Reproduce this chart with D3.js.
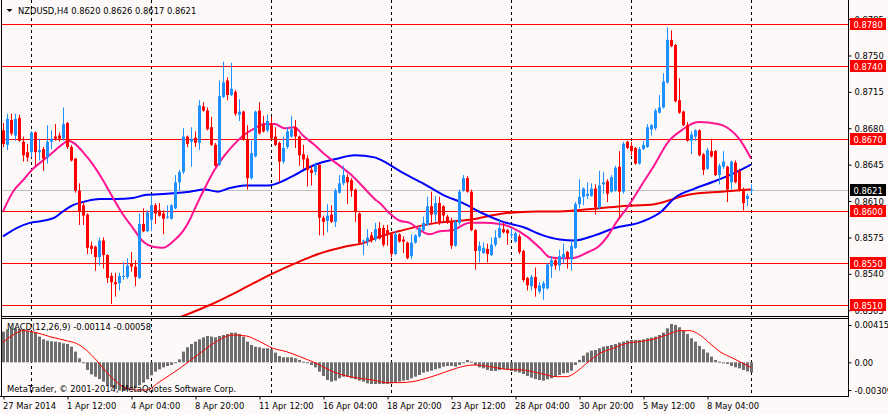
<!DOCTYPE html>
<html>
<head>
<meta charset="utf-8">
<script src="https://d3js.org/d3.v7.min.js"></script>
<style>
  body { margin: 0; background: #fdf9f8; }
  svg text { font-family: 'DejaVu Sans Condensed', 'DejaVu Sans', sans-serif; font-size: 9.3px; fill: #000; }
</style>
</head>
<body>
<div id="chart"></div>
<script>
// ---------------------------------------------------------------
// data (prices in pips: 8678 = 0.8678)

let barOpen = [8678,8664,8688,8673,8690,8667,8657,8657,8676,8657,8660,8652,8667,8672,8673,8670,8685,8662,8651,8620,
    8606,8597,8567,8566,8556,8572,8558,8538,8532,8531,8537,8537,8550,8547,8536,8588,8581,8592,8606,8601,
    8598,8594,8593,8603,8628,8638,8672,8667,8671,8666,8701,8697,8681,8664,8645,8710,8726,8712,8715,8693,
    8696,8669,8632,8653,8697,8683,8678,8684,8672,8666,8648,8662,8672,8681,8672,8655,8651,8640,8638,8645,
    8594,8591,8597,8590,8618,8627,8633,8630,8621,8598,8571,8571,8577,8573,8584,8584,8582,8578,8559,8578,
    8573,8570,8557,8570,8576,8582,8587,8605,8597,8608,8605,8595,8591,8567,8589,8620,8632,8619,8582,8562,
    8560,8564,8558,8568,8575,8583,8582,8577,8571,8576,8562,8536,8528,8537,8523,8526,8526,8547,8553,8548,
    8555,8561,8554,8565,8607,8614,8615,8615,8622,8604,8626,8629,8619,8620,8643,8619,8667,8663,8661,8646,
    8660,8662,8679,8680,8695,8700,8724,8765,8760,8707,8696,8683,8668,8672,8678,8655,8641,8658,8658,8635,
    8643,8643,8628,8647,8639,8621,8612,8620];
let barHigh = [8685,8694,8694,8694,8693,8672,8665,8677,8677,8670,8662,8683,8678,8684,8676,8700,8686,8664,8651,8627,
    8609,8598,8571,8567,8575,8575,8559,8541,8541,8541,8551,8555,8561,8553,8598,8603,8601,8615,8608,8608,
    8601,8606,8607,8635,8640,8680,8673,8681,8677,8707,8705,8700,8691,8666,8726,8744,8729,8743,8717,8708,
    8697,8683,8668,8697,8705,8692,8693,8691,8681,8667,8672,8681,8692,8688,8673,8664,8654,8644,8647,8645,
    8596,8607,8606,8622,8635,8644,8636,8632,8622,8599,8573,8583,8580,8589,8590,8587,8587,8579,8581,8579,
    8576,8571,8578,8578,8586,8595,8614,8619,8615,8614,8606,8597,8594,8592,8621,8635,8634,8621,8583,8571,
    8570,8569,8575,8582,8592,8589,8583,8584,8581,8578,8563,8537,8539,8546,8532,8533,8550,8557,8555,8563,
    8569,8562,8572,8609,8631,8623,8628,8627,8626,8639,8638,8631,8635,8644,8658,8667,8668,8667,8662,8662,
    8668,8684,8684,8699,8712,8733,8777,8774,8761,8728,8697,8686,8677,8679,8679,8656,8661,8670,8659,8646,
    8658,8644,8649,8649,8641,8623,8617,8626];
let barLow = [8662,8659,8673,8668,8667,8648,8648,8652,8644,8649,8639,8646,8660,8668,8667,8668,8660,8648,8618,8587,
    8587,8559,8559,8543,8548,8545,8531,8511,8518,8524,8534,8535,8542,8528,8535,8580,8580,8581,8588,8595,
    8578,8593,8592,8602,8620,8636,8662,8643,8662,8659,8696,8678,8663,8643,8644,8709,8707,8711,8692,8687,
    8668,8621,8631,8652,8674,8676,8676,8669,8663,8628,8646,8660,8671,8661,8644,8641,8624,8625,8635,8577,
    8577,8580,8589,8585,8617,8625,8607,8614,8590,8568,8558,8567,8570,8571,8573,8566,8567,8556,8558,8570,
    8560,8554,8554,8569,8575,8581,8586,8589,8590,8587,8590,8588,8564,8566,8587,8619,8618,8581,8544,8551,
    8559,8551,8557,8566,8574,8579,8568,8574,8570,8559,8532,8524,8524,8518,8521,8515,8525,8536,8544,8543,
    8550,8545,8543,8564,8603,8606,8612,8614,8597,8602,8617,8609,8618,8619,8593,8617,8660,8654,8645,8645,
    8659,8661,8673,8678,8694,8699,8723,8758,8705,8694,8682,8667,8655,8668,8653,8635,8640,8652,8634,8626,
    8641,8609,8621,8627,8619,8601,8605,8617];
let barClose = [8665,8689,8675,8689,8668,8654,8652,8676,8657,8659,8651,8667,8670,8670,8670,8684,8662,8649,8620,8600,
    8596,8565,8564,8556,8572,8558,8536,8532,8530,8538,8538,8548,8547,8537,8588,8581,8599,8606,8598,8596,
    8593,8595,8606,8628,8638,8672,8665,8670,8666,8702,8697,8679,8664,8644,8711,8724,8712,8718,8694,8696,
    8669,8632,8656,8696,8675,8677,8687,8670,8664,8648,8661,8677,8679,8672,8654,8650,8640,8637,8644,8594,
    8590,8596,8590,8620,8627,8635,8628,8620,8600,8570,8572,8575,8573,8583,8574,8568,8578,8559,8578,8571,
    8571,8555,8570,8577,8584,8589,8605,8597,8608,8589,8596,8589,8567,8590,8619,8632,8619,8582,8562,8567,
    8565,8559,8568,8575,8584,8580,8579,8578,8579,8561,8534,8529,8537,8526,8529,8531,8549,8553,8548,8557,
    8559,8555,8567,8607,8614,8622,8617,8622,8604,8625,8628,8617,8633,8642,8619,8665,8661,8658,8646,8660,
    8664,8681,8683,8697,8700,8725,8765,8759,8706,8695,8683,8668,8674,8678,8654,8640,8659,8653,8635,8644,
    8648,8621,8648,8628,8621,8608,8615,8621];

// moving averages, [bar, pips]
let maPink = [[0,8600],[2.5,8619],[5,8630],[7.5,8641],[10,8649],[12.5,8657],[15,8665],[16.3,8668],[18,8665],
    [20,8657],[22.5,8645],[25,8630],[27.5,8613],[30,8597],[32.5,8584],[35,8571],[37.5,8566],[40,8565],[42.5,8571],
    [45,8581],[46.7,8592],[48,8603],[50.4,8622],[52.9,8640],[55.4,8654],[57.9,8665],[60.4,8674],[62.9,8680],
    [65.4,8684],[67.9,8684],[70.4,8680],[72.9,8681],[75,8673],[77.9,8664],[80.4,8655],[83.8,8645],[87.1,8635],
    [90.4,8622],[92.9,8612],[94.2,8608],[96.7,8598],[99.2,8591],[101.7,8589],[104.2,8582],[106.7,8578],
    [109.2,8581],[112.5,8582],[115,8587],[116.7,8589],[120,8589],[124.2,8588],[127.5,8584],[130.9,8576],
    [134.2,8565],[136.7,8556],[139.2,8555],[142.1,8555],[146.3,8561],[148.8,8566],[151.3,8577],[153.4,8590],
    [156.3,8605],[159.6,8625],[162.9,8645],[166.3,8667],[169.6,8678],[173.8,8686],[178.8,8684],[181.3,8680],
    [184.2,8669],[187,8651]];
let maBlue = [[0,8576],[3.4,8584],[6.7,8589],[10,8591],[12.9,8594],[15,8600],[17.5,8606],[20.9,8610],[24.2,8612],
    [28.4,8612],[32.5,8613],[35.9,8616],[40.9,8617],[46.7,8619],[50.4,8621],[53.8,8619],[56.3,8622],[60.4,8625],
    [66.3,8625],[70.4,8630],[72.9,8635],[76.3,8642],[79.6,8647],[83.8,8651],[87.9,8654],[92.9,8652],[94.2,8650],
    [100,8637],[105,8627],[110,8616],[115,8608],[120,8598],[125,8590],[130,8585],[135,8577],[139.2,8573],
    [142.9,8572],[147.9,8577],[152.9,8584],[159.6,8590],[164.6,8600],[167.9,8613],[172.9,8622],[177.9,8629],
    [182.9,8637],[187,8645]];
let maRed = [[44,8498],[45.4,8500],[51.7,8510],[59.2,8524],[66.7,8539],[74.2,8552],[78.8,8559],
    [85.4,8566],[90.4,8570],[92.9,8574],[100,8582],[108.4,8589],[116.7,8592],[125,8598],[133.4,8600],
    [139.2,8600],[146.3,8602],[154.6,8605],[162.9,8607],[171.3,8616],[179.6,8619],[187,8621]];

// MACD(12,26,9): histogram per bar and signal line, in units of 0.00001
let macdHist = [341,367,378,378,371,360,352,341,330,286,256,241,234,230,223,211,204,174,119,45,
    -11,-85,-134,-160,-186,-215,-252,-278,-300,-315,-319,-308,-293,-278,-256,-226,-189,-145,-104,-78,
    -56,-41,-30,-11,33,119,167,204,230,256,278,293,286,278,293,304,315,330,330,315,
    286,230,193,174,167,156,156,145,108,70,56,56,56,45,26,7,-11,-30,-56,-104,
    -152,-197,-215,-204,-178,-160,-160,-178,-189,-204,-215,-234,-241,-241,-241,-241,-241,-234,-226,-215,
    -204,-197,-178,-160,-141,-115,-104,-93,-78,-67,-48,-41,-41,-48,-30,-11,26,7,-30,-56,
    -67,-85,-96,-96,-85,-78,-85,-96,-104,-115,-130,-152,-171,-186,-197,-204,-189,-178,-160,-141,
    -122,-115,-93,-30,26,74,108,130,137,156,174,182,193,204,219,230,241,249,249,249,
    256,267,275,286,304,330,378,427,416,390,352,315,267,230,182,145,108,63,26,7,
    -11,-19,-41,-56,-67,-85,-100,-114];
let macdSignal = [[0,223],[2.5,304],[5,352],[8.3,330],[11.7,286],[15.8,241],[18.3,211],[20.8,137],[23.3,26],
    [25.8,-104],[28.3,-215],[30.8,-289],[33.3,-308],[35.8,-308],[39.2,-215],[44.2,-67],[49.2,100],[53.3,230],
    [57.5,304],[60.8,293],[64.2,230],[67.5,156],[70.8,119],[74.2,63],[78.3,-11],[82.5,-104],[85.8,-152],
    [89.2,-178],[92.5,-197],[95.8,-226],[99.2,-226],[102.5,-215],[105.8,-178],[109.2,-130],[113.3,-67],
    [117.5,-30],[121.7,-48],[125.8,-78],[130,-85],[134.2,-122],[138.4,-160],[140.9,-160],[143.4,-104],
    [145.9,-11],[149.2,100],[152.5,156],[155.9,211],[159.2,230],[162.5,256],[165.9,304],[169.2,352],
    [171.7,352],[174.2,304],[176.7,211],[179.2,119],[182.5,45],[187,-58]];

// axis labels
let priceTicks = [0.8785, 0.8750, 0.8715, 0.8680, 0.8645, 0.8610, 0.8575, 0.8540, 0.8505];
let levels = [0.8780, 0.8740, 0.8670, 0.8600, 0.8550, 0.8510];
let lastPrice = 0.8621;
let macdTicks = [0.00415, 0, -0.00309];
let macdTickLabels = ['0.00415', '0.00', '-0.00309'];
let timeBars = [0, 16, 32, 48, 64, 80, 96, 112, 128, 144, 160, 176];
let timeLabels = ['27 Mar 2014', '1 Apr 12:00', '4 Apr 04:00', '8 Apr 20:00', '11 Apr 12:00', '16 Apr 04:00',
    '18 Apr 20:00', '23 Apr 12:00', '28 Apr 04:00', '30 Apr 20:00', '5 May 12:00', '8 May 04:00'];
let weekBars = [7, 37, 67, 97, 127, 157, 187];

// ---------------------------------------------------------------
// layout
let width = 888, height = 414;
let plotRight = 848;
let mainBottom = 316, macdTop = 318, macdBottom = 396;

let bullColor = '#1e90ff', bearColor = '#ff0000';

let x = d3.scaleLinear().domain([0, 187]).range([3, 751]);
let y = d3.scaleLinear().domain([0.8510, 0.8780]).range([305, 24.3]);
let yM = d3.scaleLinear().domain([0, 0.00415]).range([362.3, 325]);

let pip = v => v / 10000;

let svg = d3.select('#chart').append('svg')
    .attr('width', width)
    .attr('height', height);

svg.append('rect')
    .attr('width', width).attr('height', height)
    .attr('fill', '#fdf9f8');

let defs = svg.append('defs');
defs.append('clipPath').attr('id', 'clipMain')
    .append('rect').attr('x', 2).attr('y', 0).attr('width', plotRight - 2).attr('height', mainBottom);
defs.append('clipPath').attr('id', 'clipMacd')
    .append('rect').attr('x', 2).attr('y', macdTop).attr('width', plotRight - 2).attr('height', macdBottom - macdTop);

// ---------------------------------------------------------------
// main panel
let main = svg.append('g').attr('clip-path', 'url(#clipMain)');

// week separators
main.selectAll('.week')
    .data(weekBars)
    .enter().append('line')
    .attr('class', 'week')
    .attr('x1', d => Math.round(x(d)) + 0.5).attr('x2', d => Math.round(x(d)) + 0.5)
    .attr('y1', 0).attr('y2', mainBottom)
    .attr('stroke', '#000').attr('stroke-dasharray', '3,3');

// horizontal levels
main.append('line')
    .attr('x1', 2).attr('x2', plotRight)
    .attr('y1', Math.round(y(lastPrice)) + 0.5).attr('y2', Math.round(y(lastPrice)) + 0.5)
    .attr('stroke', '#c0c0c0');

main.selectAll('.level')
    .data(levels)
    .enter().append('line')
    .attr('class', 'level')
    .attr('x1', 2).attr('x2', plotRight)
    .attr('y1', d => Math.round(y(d)) + 0.5).attr('y2', d => Math.round(y(d)) + 0.5)
    .attr('stroke', '#ff0000');

// moving averages
let maLine = d3.line()
    .curve(d3.curveMonotoneX)
    .x(d => x(d[0]))
    .y(d => y(pip(d[1])));

[[maRed, '#ee0000'], [maBlue, '#0000ff'], [maPink, '#ff1493']].forEach(function(m){
    main.append('path')
        .attr('d', maLine(m[0]))
        .attr('fill', 'none')
        .attr('stroke', m[1])
        .attr('stroke-width', 2);
});

// candles
let candles = main.selectAll('.candle')
    .data(d3.range(barOpen.length))
    .enter().append('g')
    .attr('class', 'candle');

candles.append('line')
    .attr('x1', i => Math.round(x(i)) + 0.5).attr('x2', i => Math.round(x(i)) + 0.5)
    .attr('y1', i => y(pip(barHigh[i]))).attr('y2', i => y(pip(barLow[i])))
    .attr('stroke', i => barClose[i] >= barOpen[i] ? bullColor : bearColor);

candles.append('rect')
    .attr('x', i => Math.round(x(i)) - 1)
    .attr('width', 3)
    .attr('y', i => y(pip(Math.max(barOpen[i], barClose[i]))))
    .attr('height', i => Math.max(1, Math.abs(y(pip(barOpen[i])) - y(pip(barClose[i])))))
    .attr('fill', i => barClose[i] >= barOpen[i] ? bullColor : bearColor);

// ---------------------------------------------------------------
// MACD panel
let macd = svg.append('g').attr('clip-path', 'url(#clipMacd)');

macd.selectAll('.week')
    .data(weekBars)
    .enter().append('line')
    .attr('class', 'week')
    .attr('x1', d => Math.round(x(d)) + 0.5).attr('x2', d => Math.round(x(d)) + 0.5)
    .attr('y1', macdTop).attr('y2', macdBottom)
    .attr('stroke', '#000').attr('stroke-dasharray', '3,3');

macd.selectAll('.hist')
    .data(macdHist)
    .enter().append('rect')
    .attr('class', 'hist')
    .attr('x', (d, i) => Math.round(x(i)) - 1)
    .attr('width', 3)
    .attr('y', d => Math.min(yM(d / 1e5), yM(0)))
    .attr('height', d => Math.max(1, Math.abs(yM(d / 1e5) - yM(0))))
    .attr('fill', '#6e6e6e');

let sigLine = d3.line()
    .curve(d3.curveMonotoneX)
    .x(d => x(d[0]))
    .y(d => yM(d[1] / 1e5));

macd.append('path')
    .attr('d', sigLine(macdSignal))
    .attr('fill', 'none')
    .attr('stroke', '#ff0000')
    .attr('stroke-width', 1);

// ---------------------------------------------------------------
// frames
let frame = svg.append('g').attr('stroke', '#000').attr('fill', 'none');
frame.append('line').attr('x1', 1.5).attr('x2', 1.5).attr('y1', 0).attr('y2', macdBottom);
frame.append('line').attr('x1', plotRight + 0.5).attr('x2', plotRight + 0.5).attr('y1', 0).attr('y2', macdBottom + 0.5);
frame.append('line').attr('x1', 1).attr('x2', plotRight).attr('y1', mainBottom + 0.5).attr('y2', mainBottom + 0.5);
frame.append('line').attr('x1', 1).attr('x2', plotRight).attr('y1', macdTop + 0.5).attr('y2', macdTop + 0.5);
frame.append('line').attr('x1', 0).attr('x2', plotRight + 1).attr('y1', macdBottom + 0.5).attr('y2', macdBottom + 0.5);

// ---------------------------------------------------------------
// axes
let yAxis = d3.axisRight(y)
    .tickValues(priceTicks)
    .tickFormat(d3.format('.4f'))
    .tickSize(3)
    .tickPadding(3);

svg.append('g')
    .attr('class', 'y-axis')
    .attr('transform', 'translate(' + (plotRight + 0.5) + ',0)')
    .call(yAxis)
    .call(g => g.select('.domain').remove());

let yAxisM = d3.axisRight(yM)
    .tickValues(macdTicks)
    .tickFormat((d, i) => macdTickLabels[i])
    .tickSize(3)
    .tickPadding(3);

svg.append('g')
    .attr('class', 'y-axis-macd')
    .attr('transform', 'translate(' + (plotRight + 0.5) + ',0)')
    .call(yAxisM)
    .call(g => g.select('.domain').remove());

let xAxis = d3.axisBottom(x)
    .tickValues(timeBars)
    .tickFormat((d, i) => timeLabels[i])
    .tickSize(3)
    .tickPadding(3);

svg.append('g')
    .attr('class', 'x-axis')
    .attr('transform', 'translate(0.5,' + (macdBottom + 0.5) + ')')
    .call(xAxis)
    .call(g => g.select('.domain').remove())
    .selectAll('text').attr('text-anchor', 'start').attr('x', -1);

svg.selectAll('.tick line').attr('stroke', '#000');
svg.selectAll('.y-axis, .y-axis-macd, .x-axis').attr('font-family', null).attr('font-size', null);

// price tags
let tags = levels.map(v => ({v: v, fill: '#ff0000'})).concat([{v: lastPrice, fill: '#000'}]);
let tag = svg.selectAll('.tag')
    .data(tags)
    .enter().append('g')
    .attr('class', 'tag')
    .attr('transform', d => 'translate(850,' + Math.round(y(d.v)) + ')');

tag.append('rect')
    .attr('x', 0).attr('y', -6).attr('width', 36).attr('height', 12)
    .attr('fill', d => d.fill);

tag.append('text')
    .attr('x', 3.5).attr('y', 3.5)
    .style('fill', '#fff')
    .text(d => d3.format('.4f')(d.v));

// ---------------------------------------------------------------
// captions
svg.append('path').attr('d', 'M6.5,9L12.5,9L9.5,12Z').attr('fill', '#000');
svg.append('text').attr('x', 18).attr('y', 13.5)
    .text('NZDUSD,H4  0.8620 0.8626 0.8617 0.8621');
svg.append('text').attr('x', 7).attr('y', 330)
    .text('MACD(12,26,9) -0.00114 -0.00058');
svg.append('text').attr('x', 7).attr('y', 392)
    .text('MetaTrader, © 2001-2014, MetaQuotes Software Corp.');
</script>
</body>
</html>
